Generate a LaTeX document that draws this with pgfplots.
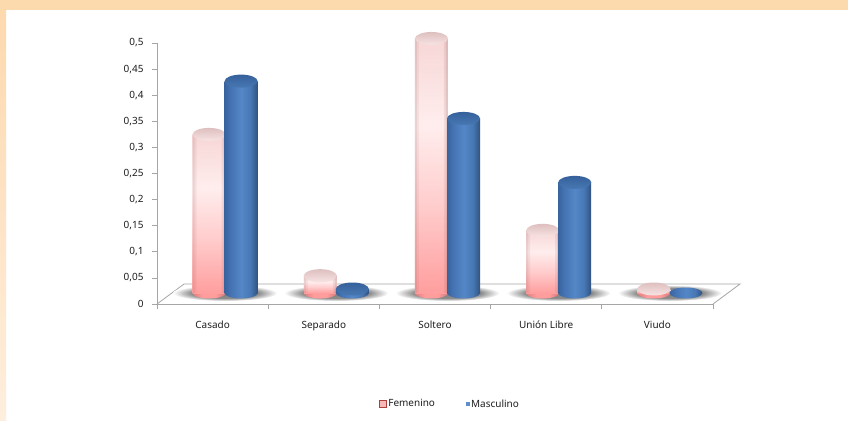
\documentclass[border=0pt]{standalone}
\usepackage{fontspec}
\setmainfont{Noto Sans}
\usepackage{pgfplots}
\pgfplotsset{compat=1.18}
\usepackage{pgfplotstable}
\definecolor{peach}{HTML}{FDD9AE}
\definecolor{peachlow}{HTML}{FEEEDD}
\definecolor{axgray}{HTML}{A6A6A6}
\definecolor{txt}{HTML}{1E1E1E}
\definecolor{legpink}{HTML}{F8B8B8}
\definecolor{legred}{HTML}{B0403D}
\definecolor{legblue}{HTML}{5F8FCB}
\definecolor{edgeP}{HTML}{8A5050}
\pgfdeclareverticalshading{pinkbody}{100bp}{rgb(0bp)=(1,.59,.59);rgb(25bp)=(1,.62,.62);rgb(42bp)=(1,.80,.80);rgb(58bp)=(1,.93,.93);rgb(75bp)=(.97,.84,.84);rgb(100bp)=(.97,.84,.84)}
\pgfdeclareverticalshading{pinktop}{100bp}{rgb(0bp)=(.97,.89,.89);rgb(25bp)=(.97,.89,.89);rgb(75bp)=(.87,.75,.75);rgb(100bp)=(.87,.75,.75)}
\pgfdeclarehorizontalshading{pinkbase}{100bp}{rgb(0bp)=(.88,.49,.49);rgb(25bp)=(.88,.49,.49);rgb(40bp)=(1,.61,.61);rgb(60bp)=(1,.61,.61);rgb(75bp)=(.84,.47,.47);rgb(100bp)=(.84,.47,.47)}
\pgfdeclarehorizontalshading{bluebody}{100bp}{rgb(0bp)=(.22,.39,.62);rgb(25bp)=(.22,.39,.62);rgb(34bp)=(.27,.45,.70);rgb(50bp)=(.33,.53,.78);rgb(64bp)=(.28,.47,.71);rgb(75bp)=(.19,.32,.50);rgb(100bp)=(.19,.32,.50)}
\pgfdeclareverticalshading{bluetop}{100bp}{rgb(0bp)=(.28,.47,.70);rgb(25bp)=(.28,.47,.70);rgb(75bp)=(.21,.38,.61);rgb(100bp)=(.21,.38,.61)}
\pgfdeclareradialshading{floorshadow}{\pgfpointorigin}{rgb(0bp)=(.50,.50,.50);rgb(16bp)=(.55,.55,.55);rgb(25bp)=(1,1,1);rgb(50bp)=(1,1,1)}
\pgfdeclareplotmark{ptop}{\pgfpathellipse{\pgfpointorigin}{\pgfqpoint{16.5bp}{0bp}}{\pgfqpoint{0bp}{6.5bp}}\pgfshadepath{pinktop}{0}\pgfusepath{discard}}
\pgfdeclareplotmark{btop}{\pgfpathellipse{\pgfpointorigin}{\pgfqpoint{16.5bp}{0bp}}{\pgfqpoint{0bp}{6.5bp}}\pgfshadepath{bluetop}{0}\pgfusepath{discard}}
\pgfdeclareplotmark{pbase}{\pgfpathellipse{\pgfpointorigin}{\pgfqpoint{16.5bp}{0bp}}{\pgfqpoint{0bp}{5.5bp}}\pgfshadepath{pinkbase}{0}\pgfusepath{discard}}
\pgfdeclareplotmark{bbase}{\pgfpathellipse{\pgfpointorigin}{\pgfqpoint{16.5bp}{0bp}}{\pgfqpoint{0bp}{5.5bp}}\pgfshadepath{bluebody}{0}\pgfusepath{discard}}
\pgfdeclareplotmark{shadow}{\pgfpathellipse{\pgfpointorigin}{\pgfqpoint{52bp}{0bp}}{\pgfqpoint{0bp}{8bp}}\pgfshadepath{floorshadow}{0}\pgfusepath{discard}}
\pgfplotstableread{
x v
-0.144 0.32
0.856 0.055
1.856 0.50
2.856 0.14
3.856 0.03
}\femenino
\pgfplotstableread{
x v
0.144 0.42
1.144 0.03
2.144 0.35
3.144 0.23
4.144 0.02
}\masculino
\pgfplotstableread{
x v
-0.144 0.0225
0.856 0.0225
1.856 0.0225
2.856 0.0225
3.856 0.0225
}\fbase
\pgfplotstableread{
x v
0.144 0.0225
1.144 0.0225
2.144 0.0225
3.144 0.0225
4.144 0.0225
}\mbase
\pgfplotstableread{
x v
0 0.0225
1 0.0225
2 0.0225
3 0.0225
4 0.0225
}\groupbase
\pgfplotsset{overlay axis/.style={
  at={(169.5bp,127bp)},anchor=south west,
  scale only axis,width=556bp,height=286.5bp,
  xmin=-0.5,xmax=4.5,ymin=0.0225,ymax=0.56,
  hide axis},
  pinkbar/.style={ybar,bar width=33bp,bar shift=0pt,draw=none,shading=pinkbody},
  bluebar/.style={ybar,bar width=33bp,bar shift=0pt,draw=none,shading=bluebody},
  edge/.style 2 args={ybar,bar width=#1,bar shift=#2,draw=none,fill=edgeP,fill opacity=0.16}
}
\begin{document}
\begin{tikzpicture}[x=1bp,y=1bp]
\useasboundingbox (0,0) rectangle (848,420);
\fill[white] (0,0) rectangle (848,420);
\shade[bottom color=peachlow,top color=peach] (0,0) rectangle (6,411);
\fill[peach] (0,410) rectangle (848,420);
\begin{axis}[
  at={(157bp,116bp)},anchor=south west,
  scale only axis,width=556bp,height=261bp,
  xmin=-0.5,xmax=4.5,ymin=0,ymax=0.5,
  axis lines*=left,
  axis line style={axgray,-},
  clip=false,
  xtick={0,1,2,3,4},
  xticklabels={Casado,Separado,Soltero,Unión Libre,Viudo},
  minor xtick={-0.5,0.5,1.5,2.5,3.5,4.5},
  ytick={0,0.05,0.1,0.15,0.2,0.25,0.3,0.35,0.4,0.45,0.5},
  yticklabels={0,{0,05},{0,1},{0,15},{0,2},{0,25},{0,3},{0,35},{0,4},{0,45},{0,5}},
  tick align=outside,
  major x tick style={draw=none},
  minor x tick style={axgray,line width=0.8bp},
  minor tick length=5bp,
  major tick length=5bp,
  y tick style={axgray,line width=0.8bp},
  tick label style={font=\fontsize{10}{12}\selectfont,text=txt},
  xticklabel style={yshift=-8bp},
  yticklabel style={xshift=-5bp},
  legend style={at={(0.527,-0.383)},anchor=center,draw=none,fill=none,legend columns=2,
    font=\fontsize{10}{12}\selectfont,text=txt,
    /tikz/every even column/.append style={column sep=29bp},inner sep=0pt},
]
\addlegendimage{only marks,mark=square*,mark size=3.6bp,mark options={fill=legpink,draw=legred,line width=1.2bp}}
\addlegendentry{Femenino}
\addlegendimage{only marks,mark=square*,mark size=1.6bp,mark options={fill=legblue,draw=legblue,line width=0pt}}
\addlegendentry{Masculino}
\addplot[axgray,line width=0.8bp,forget plot] coordinates {(-0.5,0) (-0.257,0.0383) (4.743,0.0383) (4.5,0)};
\end{axis}
\begin{axis}[overlay axis]
\addplot[only marks,mark=shadow] table[x=x,y=v] {\groupbase};
\end{axis}
\begin{axis}[overlay axis]
\addplot[only marks,mark=pbase] table[x=x,y=v] {\fbase};
\end{axis}
\begin{axis}[overlay axis]
\addplot[pinkbar] coordinates {(-0.144,0.32)};
\addplot[pinkbar] coordinates {(0.856,0.055)};
\addplot[pinkbar] coordinates {(1.856,0.50)};
\addplot[pinkbar] coordinates {(2.856,0.14)};
\addplot[pinkbar] coordinates {(3.856,0.03)};
\addplot[edge={2bp}{-15.5bp}] table[x=x,y=v] {\femenino};
\addplot[edge={2bp}{-13.5bp},fill opacity=0.08] table[x=x,y=v] {\femenino};
\addplot[edge={2bp}{15.5bp},fill opacity=0.22] table[x=x,y=v] {\femenino};
\addplot[edge={2bp}{13.5bp},fill opacity=0.10] table[x=x,y=v] {\femenino};
\addplot[only marks,mark=ptop] table[x=x,y=v] {\femenino};
\end{axis}
\begin{axis}[overlay axis]
\addplot[only marks,mark=bbase] table[x=x,y=v] {\mbase};
\end{axis}
\begin{axis}[overlay axis]
\addplot[bluebar] coordinates {(0.144,0.42)};
\addplot[bluebar] coordinates {(1.144,0.03)};
\addplot[bluebar] coordinates {(2.144,0.35)};
\addplot[bluebar] coordinates {(3.144,0.23)};
\addplot[only marks,mark=btop] table[x=x,y=v] {\masculino};
\end{axis}
\end{tikzpicture}
\end{document}
